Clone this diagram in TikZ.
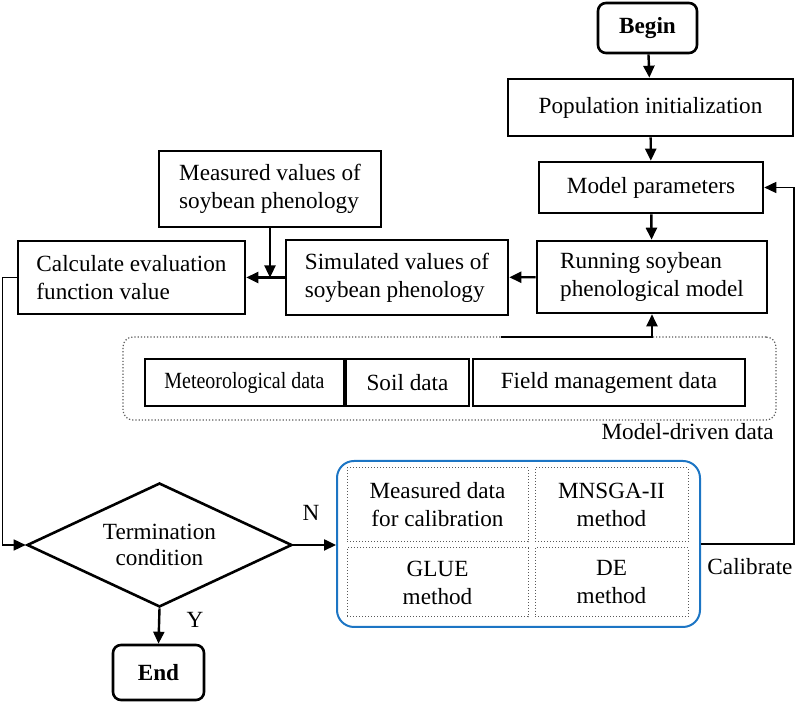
\documentclass[tikz,border=0pt]{standalone}
\usepackage{fontspec}
\setmainfont{Liberation Serif}
\newfontfamily\condserif[FakeStretch=0.86]{Liberation Serif}
\usepackage{xcolor}
\definecolor{colCalib}{RGB}{28,117,196}
\colorlet{colDot}{black!65}
\usetikzlibrary{arrows.meta, positioning, shapes.geometric}
\newcommand{\flowfont}{\fontsize{11.6}{14}\selectfont}
\tikzset{
	procbox/.style={draw, line width=1.3pt, inner sep=0pt, align=center, font=\flowfont},
	termbox/.style={procbox, rounded corners=4pt, font=\flowfont\bfseries},
	databox/.style={draw, line width=1.3pt, inner sep=0pt, minimum height=23.5pt, font=\flowfont},
	cellbox/.style={draw=colDot, densely dotted, line width=0.5pt, inner sep=0pt, align=center, font=\flowfont},
	flowarr/.style={-{Triangle[length=6pt, width=5.5pt]}, line width=1.2pt},
	backarr/.style={-{Triangle[length=6pt, width=5.5pt]}, line width=0.75pt},
}

\begin{document}
\begin{tikzpicture}[
		x=0.5pt, y=-0.5pt,
		lbl/.style={font=\flowfont, inner sep=0pt}
	]
	\useasboundingbox (0,0) rectangle (800,704);

	% Start and initialization
	\node[termbox, minimum width=49.5pt, minimum height=25pt] (begin) at (647.5,28) {Begin};
	\node[procbox, minimum width=142.5pt, minimum height=28.5pt] (init) at (650.5,107.5) {Population initialization};
	\node[procbox, minimum width=112pt, minimum height=25.5pt] (param) at (651,187.5) {Model parameters};
	\node[procbox, align=left, minimum width=115pt, minimum height=36pt] (run) at (652,277) {Running soybean\\phenological model};

	% Simulated vs measured
	\node[procbox, align=left, minimum width=111pt, minimum height=37.5pt] (sim) at (397,277.5) {Simulated values of\\soybean phenology};
	\node[procbox, align=left, minimum width=111pt, minimum height=38pt] (meas) at (270,189) {Measured values of\\soybean phenology};
	\node[procbox, align=left, minimum width=113.5pt, minimum height=36.5pt] (calc) at (131.5,277.5) {Calculate evaluation\\function value};

	% Model-driven data
	\node[draw=colDot, densely dotted, line width=0.6pt, rounded corners=5pt, minimum width=326.5pt, minimum height=41.5pt] (drv) at (449.5,378.5) {};
	\node[databox, minimum width=99.5pt, font=\flowfont\condserif] (meteo) at (244.5,382.5) {Meteorological data};
	\node[databox, minimum width=61.5pt] (soil) at (407.5,382.5) {Soil data};
	\node[databox, minimum width=136pt] (field) at (609,382.5) {Field management data};
	\node[lbl, anchor=east] (drvlbl) at (774,432) {Model-driven data};
	\coordinate (drvtap) at (501,337);

	% Decision and end
	\node[draw, diamond, aspect=2, line width=1.3pt, inner sep=0pt, minimum width=132.5pt, minimum height=62pt, align=center, font=\fontsize{11.6}{13}\selectfont] (term) at (159.5,545) {Termination\\condition};
	\node[termbox, minimum width=45.5pt, minimum height=27.5pt] (end) at (158.5,672.5) {End};
	\node[lbl] (lblN) at (311,513) {N};
	\node[lbl] (lblY) at (195,620) {Y};

	% Calibration block
	\node[draw=colCalib, line width=1pt, rounded corners=8.5pt, minimum width=181.5pt, minimum height=83pt] (calib) at (518.5,544) {};
	\node[cellbox, minimum width=90.5pt, minimum height=37pt] (cdata) at (437.5,505) {Measured data\\for calibration};
	\node[cellbox, minimum width=76.5pt, minimum height=37pt] (cmnsga) at (611.5,505) {MNSGA-II\\method};
	\node[cellbox, minimum width=90.5pt, minimum height=34.5pt] (cglue) at (437.5,582.5) {GLUE\\method};
	\node[cellbox, minimum width=76.5pt, minimum height=34.5pt] (cde) at (611.5,582.5) {DE\\method};
	\node[lbl] (lblcal) at (750,567) {Calibrate};

	% Main flow
	\draw[flowarr] (begin) -- (init);
	\draw[flowarr] (init) -- (param);
	\draw[flowarr] (param) -- (run);
	\draw[flowarr] (run) -- (sim);
	\draw[flowarr] (sim) -- (calc);
	\draw[flowarr] (meas.south) -- (meas.south |- calc.east);
	\draw[flowarr] (drvtap) -| (run.south);

	% Decision branches
	\draw[backarr] (calc.west) -- ++(-14,0) |- (term.west);
	\draw[flowarr] (term.east) -- (term.east -| calib.west);
	\draw[flowarr] (term.south) -- (end.north);

	% Calibrate feedback
	\draw[backarr] (calib.east) -- ++(93,0) |- (param.east);
\end{tikzpicture}
\end{document}
